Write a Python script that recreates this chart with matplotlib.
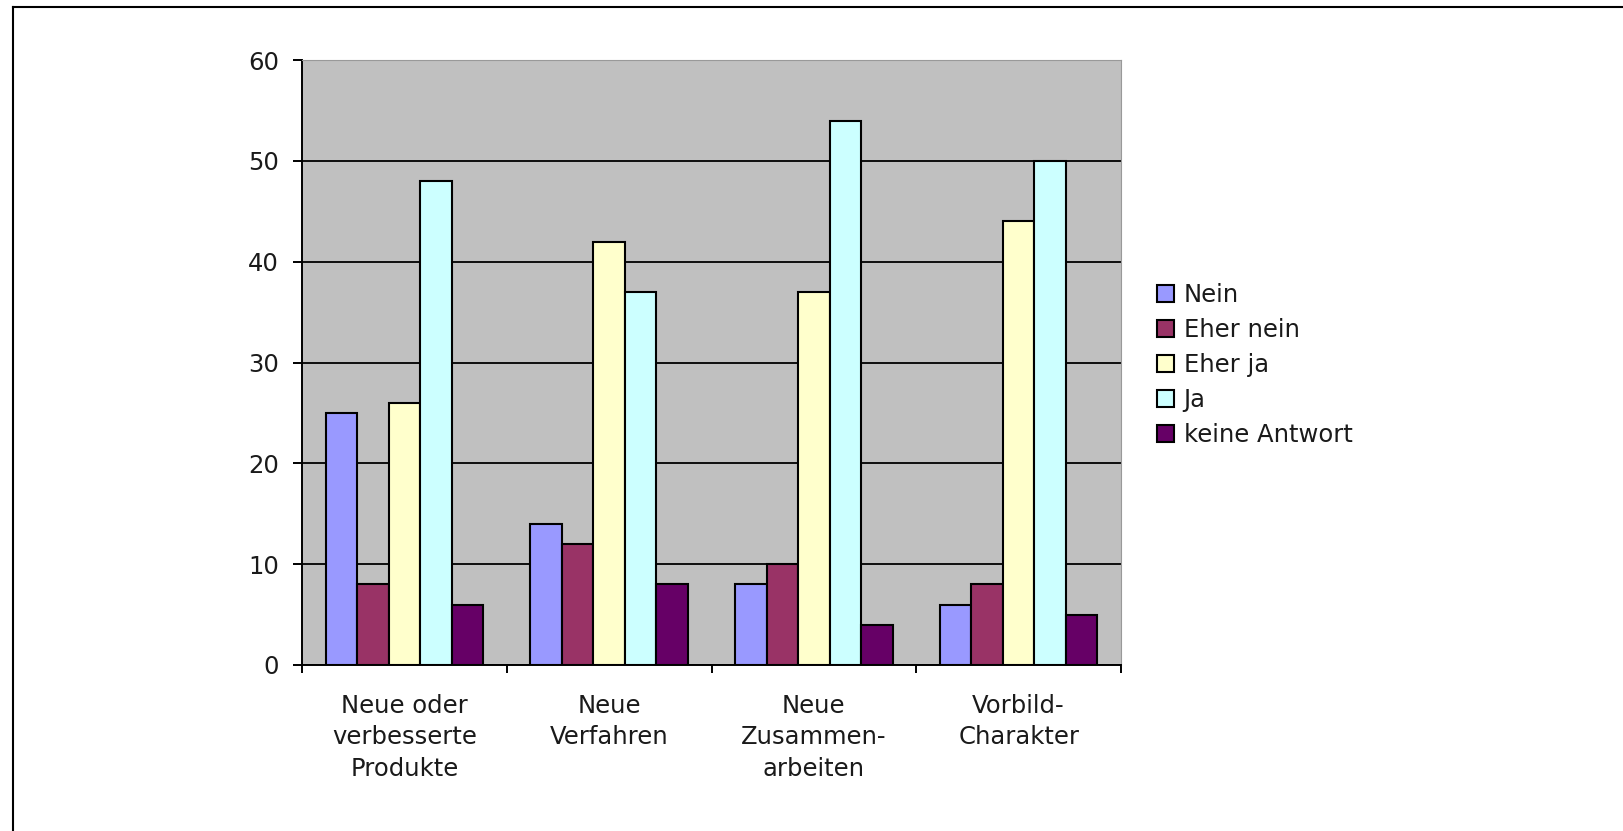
import matplotlib
matplotlib.use("Agg")
import matplotlib.pyplot as plt
from matplotlib.lines import Line2D
import numpy as np

categories = ["Neue oder\nverbesserte\nProdukte", "Neue\nVerfahren", "Neue\nZusammen-\narbeiten", "Vorbild-\nCharakter"]
series_names = ["Nein", "Eher nein", "Eher ja", "Ja", "keine Antwort"]
nein = [25, 14, 8, 6]
eher_nein = [8, 12, 10, 8]
eher_ja = [26, 42, 37, 44]
ja = [48, 37, 54, 50]
keine_antwort = [6, 8, 4, 5]
colors = ["#9999FF", "#993366", "#FFFFCC", "#CCFFFF", "#660066"]
yticks = [0, 10, 20, 30, 40, 50, 60]

plt.rcParams['font.family'] = ['DejaVu Sans']
fs = 17.5

fig = plt.figure(figsize=(16.23, 8.31), dpi=100)
W, H = 1623, 831
ax = fig.add_axes([302 / W, 1 - 665 / H, (1121 - 302) / W, (665 - 60) / H])
ax.set_facecolor("#C0C0C0")

values = [nein, eher_nein, eher_ja, ja, keine_antwort]
x = np.arange(len(categories))
bw = 1 / 6.5
for i, (vals, name, c) in enumerate(zip(values, series_names, colors)):
    ax.bar(x + (i - 2) * bw, vals, width=bw, color=c, edgecolor="black",
           linewidth=1.5, label=name, zorder=3)

ax.set_xlim(-0.5, len(categories) - 0.5)
ax.set_ylim(0, 60)
ax.set_yticks(yticks)
ax.set_yticklabels([str(v) for v in yticks], fontsize=fs, color="#1a1a1a")
ax.yaxis.grid(True, color="black", linewidth=1.3, zorder=1)
ax.set_axisbelow(True)

ax.set_xticks(np.arange(-0.5, len(categories), 1.0))
ax.set_xticklabels([])
ax.set_xticks(x, minor=True)
ax.set_xticklabels(categories, minor=True, fontsize=fs, color="#1a1a1a",
                   linespacing=1.38)
ax.tick_params(axis="x", which="minor", length=0, pad=21)
ax.tick_params(axis="x", which="major", direction="out", length=6, width=1.4)
ax.tick_params(axis="y", direction="out", length=6.5, width=1.4, pad=10)

for s in ["left", "bottom"]:
    ax.spines[s].set_color("black")
    ax.spines[s].set_linewidth(1.4)
for s in ["top", "right"]:
    ax.spines[s].set_color("#999999")
    ax.spines[s].set_linewidth(0.8)

leg = ax.legend(loc="center left", bbox_to_anchor=(1157 / W, 1 - 365 / H),
                bbox_transform=fig.transFigure, frameon=False, fontsize=fs,
                handlelength=0.7, handleheight=0.7, handletextpad=0.4,
                labelspacing=0.46, borderaxespad=0, borderpad=0)
for t in leg.get_texts():
    t.set_color("#1a1a1a")

# page border (top and left)
fig.add_artist(Line2D([13 / W, 1], [1 - 7 / H, 1 - 7 / H], color="black", linewidth=1.5,
                      transform=fig.transFigure))
fig.add_artist(Line2D([13 / W, 13 / W], [0, 1 - 7 / H], color="black", linewidth=1.5,
                      transform=fig.transFigure))

fig.savefig("out.png", dpi=100, facecolor="white")
